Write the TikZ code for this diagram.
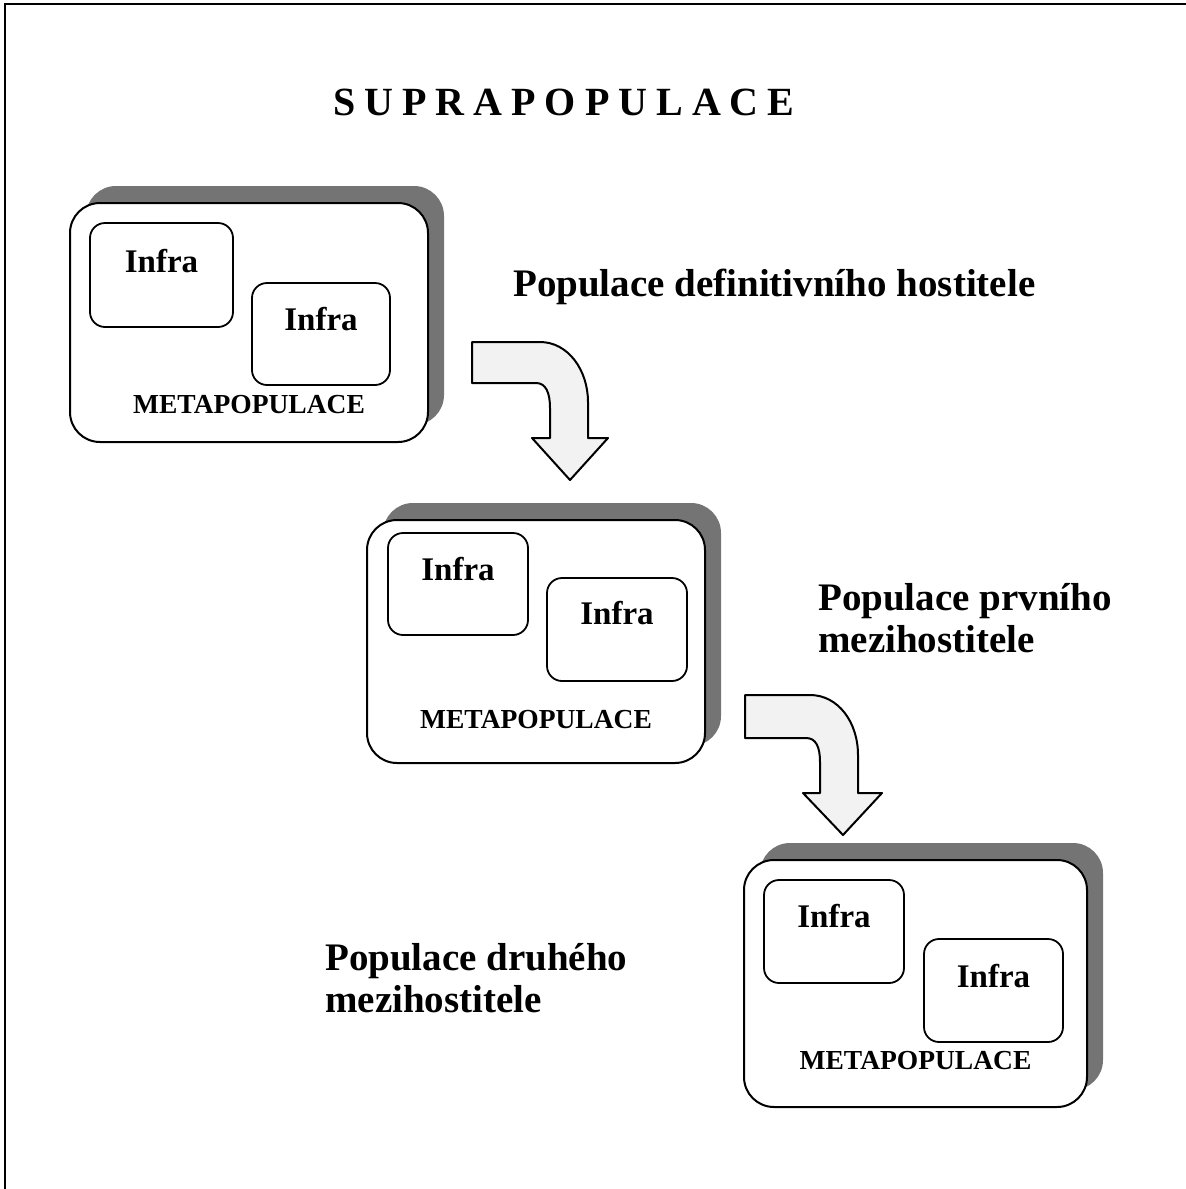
\documentclass[tikz,border=0pt]{standalone}
\usepackage{fontspec}
\setmainfont{Liberation Serif}
\usetikzlibrary{shadows}
\definecolor{shadowgray}{HTML}{747474}
\definecolor{arrowfill}{HTML}{F2F2F2}
\begin{document}
\begin{tikzpicture}[x=1pt,y=-1pt,
  metabox/.style={draw, line width=2pt, fill=white, rounded corners=30pt, inner sep=0pt,
    font=\bfseries\fontsize{27.5}{27.5}\selectfont,
    general shadow={fill=shadowgray, shadow xshift=16pt, shadow yshift=17pt}},
  infrabox/.style={draw, line width=1.8pt, fill=white, rounded corners=15pt, inner sep=0pt,
    font=\bfseries\fontsize{33}{33}\selectfont},
  lbl/.style={anchor=base west, inner sep=0pt, font=\bfseries\fontsize{39}{39}\selectfont},
  blockarrow/.style={draw, line width=2pt, fill=arrowfill, line join=round}
]
\useasboundingbox (0,0) rectangle (1186,1189);
% frame
\draw[line width=2.8pt] (5,1189) -- (5,4) -- (1186,4);
% title
\node[anchor=base west, inner sep=0pt, font=\bfseries\fontsize{40}{40}\selectfont] (title) at (333,115)
  {S\kern9pt U\kern9pt P\kern9pt R\kern9pt A\kern9pt P\kern9pt O\kern9pt P\kern9pt U\kern9pt L\kern9pt A\kern9pt C\kern9pt E};
% box 1
\node[metabox, minimum width=358pt, text height=210pt, text depth=29pt] (m1) at (249,322.5) {METAPOPULACE};
\node[infrabox, minimum width=143pt, text height=49pt, text depth=55pt] (m1a) at (161.5,275) {Infra};
\node[infrabox, minimum width=138pt, text height=47pt, text depth=55pt] (m1b) at (321,334) {Infra};
% box 2
\node[metabox, minimum width=338pt, text height=208pt, text depth=35pt] (m2) at (536,641.5) {METAPOPULACE};
\node[infrabox, minimum width=140pt, text height=47pt, text depth=55pt] (m2a) at (458,584) {Infra};
\node[infrabox, minimum width=140pt, text height=46pt, text depth=57pt] (m2b) at (617,629.5) {Infra};
% box 3
\node[metabox, minimum width=343pt, text height=209pt, text depth=38pt] (m3) at (915.5,983.5) {METAPOPULACE};
\node[infrabox, minimum width=140pt, text height=47pt, text depth=56pt] (m3a) at (834,931.5) {Infra};
\node[infrabox, minimum width=139pt, text height=48pt, text depth=55pt] (m3b) at (993.5,990.5) {Infra};
% labels
\node[lbl] (l1) at (513,296) {Populace definitivního hostitele};
\node[lbl] (l2a) at (818,610) {Populace prvního};
\node[lbl] (l2b) at (818,652) {mezihostitele};
\node[lbl] (l3a) at (325,970) {Populace druhého};
\node[lbl] (l3b) at (325,1012) {mezihostitele};
% arrows
\draw[blockarrow] (472,342) -- (540,342) .. controls (568,342) and (588,370) .. (588,402) -- (588,438)
  -- (608,438) -- (570,480) -- (532,438) -- (550,438) -- (550,408)
  .. controls (550,393) and (546,383) .. (536,383) -- (472,383) -- cycle;
\draw[blockarrow] (745,695) -- (810,695) .. controls (838,695) and (858,722) .. (858,755) -- (858,793)
  -- (882,793) -- (843,835) -- (803,793) -- (820,793) -- (820,762)
  .. controls (820,747) and (816,738) .. (806,738) -- (745,738) -- cycle;
\end{tikzpicture}
\end{document}
